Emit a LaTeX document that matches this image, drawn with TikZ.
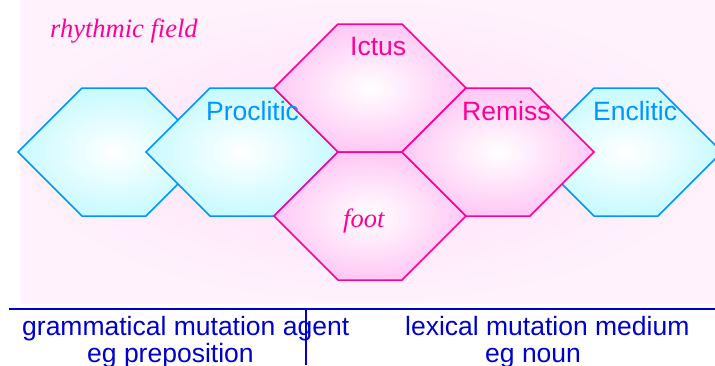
\documentclass[tikz,border=0pt]{standalone}
\usepackage{fontspec}
\setmainfont{Liberation Serif}
\setsansfont{Liberation Sans}
\usetikzlibrary{positioning}
\definecolor{cliticline}{RGB}{0,150,255}
\definecolor{cliticfill}{RGB}{200,250,255}
\definecolor{moraline}{RGB}{255,0,150}
\definecolor{morafill}{RGB}{255,200,245}
\definecolor{fieldpink}{RGB}{255,222,248}
\definecolor{mutblue}{RGB}{0,0,204}
\tikzset{%
	hexcell/.pic = {\path [pic actions] (-96,0) -- (-32,-64) -- (32,-64) -- (96,0) -- (32,64) -- (-32,64) -- cycle;},
	clit/.style = {draw = cliticline, line width = 1.5pt, inner color = white, outer color = cliticfill},
	mora/.style = {draw = moraline, line width = 1.5pt, inner color = white, outer color = morafill},
	lab/.style = {anchor = base west, inner sep = 0pt, font = \sffamily\fontsize{26.5}{28}\selectfont},
	ital/.style = {anchor = base west, inner sep = 0pt, font = \itshape\fontsize{26.5}{28}\selectfont, text = moraline},
	rule/.style = {draw = mutblue, line width = 1.6pt}
}
\begin{document}
\begin{tikzpicture}[x = 1pt, y = -1pt]
			\useasboundingbox (0,0) rectangle (715,365);
			\fill [fieldpink!40] (20,0) rectangle (715,303);
			\fill [inner color = fieldpink, outer color = fieldpink!40] (20,0) rectangle (715,303);
			% clitics and feet
			\pic [clit] at (114,152) {hexcell};
			\pic [clit] at (242,152) {hexcell};
			\pic [clit] at (626,152) {hexcell};
			\pic [mora] at (370,88) {hexcell};
			\pic [mora] at (370,216) {hexcell};
			\pic [mora] at (498,152) {hexcell};
			\node [ital] (field) at (50,37) {rhythmic field};
			\node [lab, text = moraline] (ictus) at (350,55) {Ictus};
			\node [lab, text = cliticline] (proclitic) at (206,120) {Proclitic};
			\node [lab, text = moraline] (remiss) at (462,120) {Remiss};
			\node [lab, text = cliticline] (enclitic) at (593,120) {Enclitic};
			\node [ital] (foot) at (343,227) {foot};
			% mutation
			\coordinate (rule west) at (9,309);
			\coordinate (rule east) at (715,309);
			\coordinate (split top) at (306,309);
			\coordinate (split bottom) at (306,365);
			\draw [rule] (rule west) -- (rule east);
			\draw [rule] (split top) -- (split bottom);
			\node [lab, text = mutblue] (agent) at (22,335) {grammatical mutation agent};
			\node [lab, text = mutblue] (prep) at (87,362) {eg preposition};
			\node [lab, text = mutblue] (medium) at (405,335) {lexical mutation medium};
			\node [lab, text = mutblue] (noun) at (485,362) {eg noun};
\end{tikzpicture}
\end{document}
